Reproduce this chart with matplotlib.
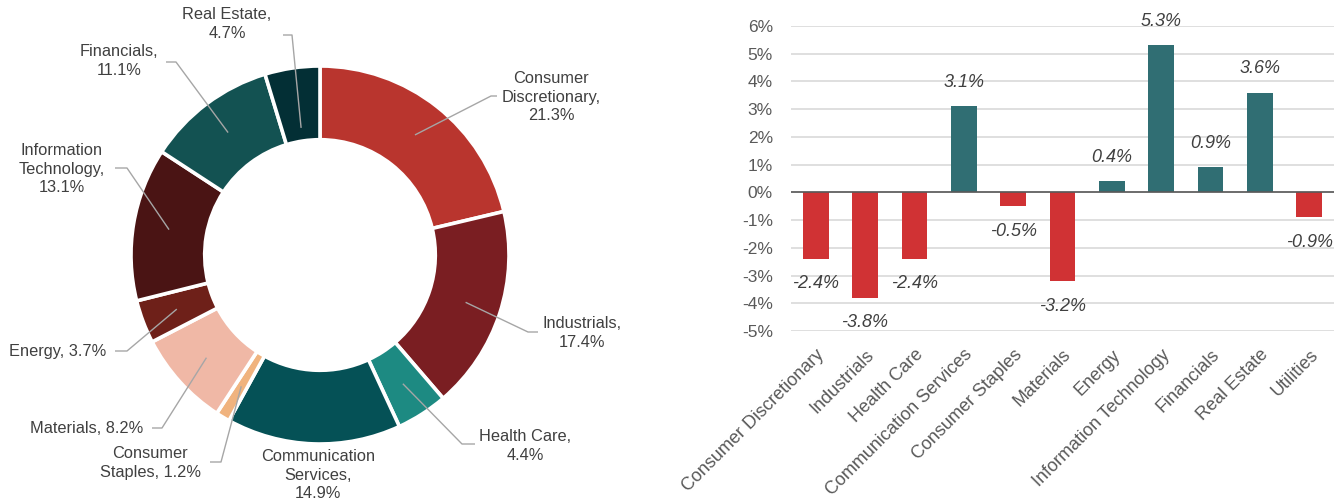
import numpy as np
import matplotlib
matplotlib.use("Agg")
import matplotlib.pyplot as plt

plt.rcParams['font.family'] = ['Liberation Sans', 'DejaVu Sans']

# sector weights (donut), clockwise from 12 o'clock
sectors = ["Consumer Discretionary", "Industrials", "Health Care",
           "Communication Services", "Consumer Staples", "Materials",
           "Energy", "Information Technology", "Financials", "Real Estate"]
weights = [21.3, 17.4, 4.4, 14.9, 1.2, 8.2, 3.7, 13.1, 11.1, 4.7]
sector_colors = ["#B9352E", "#7A1E22", "#1D8A82", "#055156", "#F0B37E",
                 "#F0B8A6", "#6E2019", "#4A1414", "#135252", "#032F35"]

# sector returns (bars)
bar_sectors = ["Consumer Discretionary", "Industrials", "Health Care",
               "Communication Services", "Consumer Staples", "Materials",
               "Energy", "Information Technology", "Financials", "Real Estate",
               "Utilities"]
returns = [-2.4, -3.8, -2.4, 3.1, -0.5, -3.2, 0.4, 5.3, 0.9, 3.6, -0.9]

W, H = 1334, 498
fig = plt.figure(figsize=(W / 100, H / 100), dpi=100)

# ---- donut ----
R = 189.0
cx, cy = 320.0, 255.0
ax1 = fig.add_axes([0, 0, 660 / W, 1])
wedges, _ = ax1.pie(weights, colors=sector_colors, startangle=90,
                    counterclock=False, radius=1.0,
                    wedgeprops=dict(width=0.39, edgecolor="white", linewidth=2.6))
ax1.set_aspect("auto")
ax1.set_xlim(-cx / R, (660 - cx) / R)
ax1.set_ylim(-(H - cy) / R, cy / R)


def px(x, y):
    return ((x - cx) / R, (cy - y) / R)


# label text centre, elbow point and length/side of the short horizontal tail
label_layout = {
    "Consumer Discretionary": ("Consumer\nDiscretionary,\n21.3%", (551, 97), (491, 96), 6),
    "Industrials": ("Industrials,\n17.4%", (582, 333), (528, 332), 10),
    "Health Care": ("Health Care,\n4.4%", (525, 446), (462, 444), 13),
    "Communication Services": ("Communication\nServices,\n14.9%", (318, 475), None, 0),
    "Consumer Staples": ("Consumer\nStaples, 1.2%", (150, 463), (221, 462), -11),
    "Materials": ("Materials, 8.2%", (87, 428), (162, 428), -10),
    "Energy": ("Energy, 3.7%", (58, 351), (127, 351), -12),
    "Information Technology": ("Information\nTechnology,\n13.1%", (62, 169), (127, 168), -12),
    "Financials": ("Financials,\n11.1%", (119, 61), (176, 62), -10),
    "Real Estate": ("Real Estate,\n4.7%", (227, 24), (292, 35), -9),
}

for w, name in zip(wedges, sectors):
    text, (tx, ty), elbow, tail = label_layout[name]
    ax1.text(*px(tx, ty), text, ha="center", va="center", fontsize=11.8,
             color="#404040", linespacing=1.28)
    if elbow is None:
        continue
    ang = np.deg2rad((w.theta1 + w.theta2) / 2)
    r0 = 0.68 if name == "Real Estate" else 0.81
    ax_, ay_ = r0 * np.cos(ang), r0 * np.sin(ang)
    ex, ey = px(*elbow)
    fx, fy = px(elbow[0] + tail, elbow[1])
    ax1.plot([ax_, ex, fx], [ay_, ey, fy], color="#A6A6A6", lw=1.0,
             solid_capstyle="butt")

# ---- bars ----
ax2 = fig.add_axes([791 / W, (H - 331) / H, (W - 791) / W, 305 / H])
x = np.arange(len(bar_sectors))
bar_colors = ["#D03234" if v < 0 else "#306E73" for v in returns]
ax2.bar(x, returns, width=0.52, color=bar_colors, zorder=3)
ax2.set_xlim(-0.5, len(bar_sectors) - 0.5)
ax2.set_ylim(-5, 6)
ax2.set_yticks(range(-5, 7))
ax2.set_yticklabels([f"{t}%" for t in range(-5, 7)])
ax2.grid(axis="y", color="#D9D9D9", lw=1.2, zorder=0)
ax2.axhline(0, color="#595959", lw=1.2, zorder=4)
for s in ax2.spines.values():
    s.set_visible(False)
ax2.tick_params(axis="both", length=0, labelsize=12.5, colors="#595959")
ax2.tick_params(axis="y", pad=13)
ax2.set_xticks(x)
ax2.set_xticklabels(bar_sectors, rotation=45, ha="right",
                    rotation_mode="anchor", fontsize=13)
ax2.tick_params(axis="x", pad=11)

for xi, v in zip(x, returns):
    off = 17 if v >= 0 else -18
    ax2.annotate(f"{v:.1f}%", (xi, v), xytext=(0, off),
                 textcoords="offset points", ha="center", va="center",
                 fontsize=13, style="italic", color="#404040",
                 annotation_clip=False)

fig.savefig("out.png", dpi=100)
